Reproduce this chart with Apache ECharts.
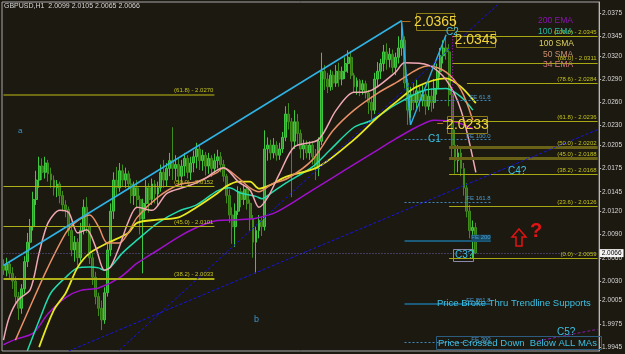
<!DOCTYPE html>
<html><head><meta charset="utf-8">
<script src="https://cdn.jsdelivr.net/npm/echarts@6/dist/echarts.min.js"></script>
<style>html,body{margin:0;padding:0;background:#1c1910;overflow:hidden}#c{width:625px;height:354px}</style>
</head><body><div id="c"></div>
<script>
// ---------- DATA ----------
const titleText = 'GBPUSD,H1  2.0099 2.0105 2.0065 2.0066';
const slotCount = 201; // hourly slots on the visible axis
const yTicks = [2.0375,2.0345,2.0320,2.0290,2.0260,2.0230,2.0205,2.0175,2.0145,2.0120,2.0090,2.0060,2.0030,2.0005,1.9975,1.9945];
// [open, close, low, high]
const ohlc = [
[2.0050,2.0044,2.0038,2.0058],[2.0044,2.0052,2.0036,2.0060],[2.0052,2.0040,2.0032,2.0056],[2.0040,2.0030,2.0020,2.0048],
[2.0030,2.0010,2.0002,2.0036],[2.0010,1.9995,1.9980,2.0016],[1.9995,2.0020,1.9988,2.0026],[2.0020,2.0055,2.0014,2.0062],
[2.0055,2.0080,2.0048,2.0092],[2.0080,2.0100,2.0070,2.0110],[2.0100,2.0135,2.0095,2.0145],[2.0135,2.0160,2.0128,2.0172],
[2.0160,2.0178,2.0150,2.0190],[2.0178,2.0170,2.0160,2.0188],[2.0170,2.0182,2.0162,2.0190],[2.0182,2.0168,2.0158,2.0186],
[2.0168,2.0160,2.0150,2.0176],[2.0160,2.0150,2.0140,2.0166],[2.0150,2.0155,2.0138,2.0160],[2.0155,2.0140,2.0130,2.0158],
[2.0140,2.0128,2.0120,2.0146],[2.0128,2.0122,2.0112,2.0134],[2.0122,2.0095,2.0088,2.0126],[2.0095,2.0070,2.0062,2.0100],
[2.0070,2.0080,2.0055,2.0088],[2.0080,2.0060,2.0050,2.0085],[2.0060,2.0095,2.0055,2.0105],[2.0095,2.0125,2.0090,2.0135],
[2.0125,2.0100,2.0092,2.0138],[2.0100,2.0060,2.0052,2.0104],[2.0060,2.0035,2.0025,2.0066],[2.0035,2.0010,2.0000,2.0042],
[2.0010,1.9995,1.9985,2.0015],[1.9995,1.9980,1.9967,2.0005],[1.9980,2.0015,1.9975,2.0022],[2.0015,2.0070,2.0010,2.0080],
[2.0070,2.0120,2.0062,2.0130],[2.0120,2.0160,2.0110,2.0170],[2.0160,2.0150,2.0140,2.0177],[2.0150,2.0172,2.0145,2.0182],
[2.0172,2.0160,2.0152,2.0180],[2.0160,2.0168,2.0150,2.0176],[2.0168,2.0155,2.0148,2.0172],[2.0155,2.0140,2.0130,2.0162],
[2.0140,2.0150,2.0128,2.0158],[2.0150,2.0135,2.0125,2.0160],[2.0135,2.0110,2.0090,2.0140],[2.0110,2.0130,2.0040,2.0136],
[2.0130,2.0150,2.0120,2.0160],[2.0150,2.0135,2.0118,2.0156],[2.0135,2.0155,2.0128,2.0162],[2.0155,2.0142,2.0130,2.0160],
[2.0142,2.0150,2.0128,2.0158],[2.0150,2.0170,2.0145,2.0180],[2.0170,2.0160,2.0150,2.0186],[2.0160,2.0175,2.0152,2.0182],
[2.0175,2.0185,2.0165,2.0195],[2.0185,2.0175,2.0160,2.0228],[2.0175,2.0180,2.0160,2.0192],[2.0180,2.0165,2.0155,2.0188],
[2.0165,2.0178,2.0152,2.0186],[2.0178,2.0188,2.0165,2.0195],[2.0188,2.0170,2.0162,2.0192],[2.0170,2.0182,2.0160,2.0190],
[2.0182,2.0190,2.0170,2.0198],[2.0190,2.0200,2.0175,2.0208],[2.0200,2.0185,2.0173,2.0206],[2.0185,2.0192,2.0172,2.0199],
[2.0192,2.0178,2.0166,2.0196],[2.0178,2.0188,2.0168,2.0195],[2.0188,2.0175,2.0164,2.0192],[2.0175,2.0185,2.0168,2.0194],
[2.0185,2.0190,2.0175,2.0199],[2.0190,2.0180,2.0170,2.0196],[2.0180,2.0165,2.0158,2.0186],[2.0165,2.0140,2.0130,2.0168],
[2.0140,2.0115,2.0105,2.0148],[2.0115,2.0100,2.0078,2.0125],[2.0100,2.0120,2.0074,2.0130],[2.0120,2.0145,2.0115,2.0152],
[2.0145,2.0135,2.0125,2.0150],[2.0135,2.0148,2.0128,2.0154],[2.0148,2.0130,2.0122,2.0152],[2.0130,2.0110,2.0095,2.0135],
[2.0110,2.0080,2.0060,2.0115],[2.0080,2.0095,2.0040,2.0100],[2.0095,2.0108,2.0085,2.0115],[2.0108,2.0100,2.0088,2.0112],
[2.0100,2.0200,2.0095,2.0224],[2.0200,2.0205,2.0185,2.0215],[2.0205,2.0195,2.0186,2.0212],[2.0195,2.0205,2.0188,2.0214],
[2.0205,2.0192,2.0185,2.0210],[2.0192,2.0200,2.0186,2.0208],[2.0200,2.0215,2.0195,2.0222],[2.0215,2.0245,2.0210,2.0255],
[2.0245,2.0235,2.0225,2.0259],[2.0235,2.0210,2.0138,2.0240],[2.0210,2.0235,2.0200,2.0250],[2.0235,2.0220,2.0205,2.0245],
[2.0220,2.0200,2.0188,2.0225],[2.0200,2.0205,2.0186,2.0212],[2.0205,2.0195,2.0188,2.0211],[2.0195,2.0205,2.0186,2.0210],
[2.0205,2.0190,2.0180,2.0210],[2.0190,2.0175,2.0160,2.0200],[2.0175,2.0210,2.0165,2.0215],[2.0210,2.0300,2.0205,2.0324],
[2.0300,2.0290,2.0276,2.0308],[2.0290,2.0280,2.0272,2.0298],[2.0280,2.0295,2.0275,2.0302],[2.0295,2.0285,2.0276,2.0300],
[2.0285,2.0300,2.0280,2.0308],[2.0300,2.0290,2.0280,2.0311],[2.0290,2.0300,2.0282,2.0306],[2.0300,2.0310,2.0290,2.0318],
[2.0310,2.0318,2.0298,2.0327],[2.0318,2.0295,2.0290,2.0326],[2.0295,2.0280,2.0272,2.0298],[2.0280,2.0288,2.0270,2.0292],
[2.0288,2.0276,2.0268,2.0290],[2.0276,2.0284,2.0270,2.0289],[2.0284,2.0272,2.0265,2.0288],[2.0272,2.0260,2.0245,2.0276],
[2.0260,2.0250,2.0237,2.0268],[2.0250,2.0290,2.0245,2.0298],[2.0290,2.0300,2.0280,2.0312],[2.0300,2.0310,2.0290,2.0316],
[2.0310,2.0325,2.0300,2.0334],[2.0325,2.0315,2.0302,2.0336],[2.0315,2.0322,2.0305,2.0330],[2.0322,2.0305,2.0298,2.0328],
[2.0305,2.0318,2.0295,2.0324],[2.0318,2.0330,2.0310,2.0345],[2.0330,2.0340,2.0320,2.0365],[2.0340,2.0285,2.0278,2.0345],
[2.0285,2.0250,2.0231,2.0290],[2.0250,2.0270,2.0240,2.0280],[2.0270,2.0260,2.0250,2.0285],[2.0260,2.0275,2.0252,2.0289],
[2.0275,2.0262,2.0248,2.0280],[2.0262,2.0270,2.0255,2.0282],[2.0270,2.0255,2.0244,2.0275],[2.0255,2.0268,2.0250,2.0285],
[2.0268,2.0260,2.0248,2.0278],[2.0260,2.0278,2.0252,2.0290],[2.0278,2.0300,2.0270,2.0310],[2.0300,2.0320,2.0292,2.0330],
[2.0320,2.0330,2.0310,2.0340],[2.0330,2.0325,2.0315,2.0345],[2.0325,2.0270,2.0255,2.0335],[2.0270,2.0205,2.0190,2.0280],
[2.0205,2.0185,2.0168,2.0225],[2.0185,2.0195,2.0170,2.0205],[2.0195,2.0175,2.0165,2.0200],[2.0175,2.0150,2.0140,2.0182],
[2.0150,2.0120,2.0112,2.0156],[2.0120,2.0095,2.0085,2.0128],[2.0095,2.0099,2.0059,2.0108],[2.0099,2.0066,2.0065,2.0105]
];
// moving averages [bar index, price]
const ema200 = [[0,1.9948],[4,1.9955],[10,1.9963],[15,1.9988],[21,2.0009],[26,2.0018],[32,2.0021],[39,2.0034],[45,2.0053],[52,2.0070],[59,2.0087],[65,2.0099],[72,2.0108],[79,2.0109],[85,2.0111],[92,2.0119],[104,2.0147],[115,2.0173],[126,2.0199],[132,2.0213],[139,2.0228],[145,2.0237],[152,2.0235],[158,2.0226]];
const ema100 = [[8,1.9940],[13,1.9989],[16,2.0015],[21,2.0035],[25,2.0047],[29,2.0048],[32,2.0047],[34,2.0044],[36,2.0048],[40,2.0066],[45,2.0083],[52,2.0105],[59,2.0120],[65,2.0128],[72,2.0146],[76,2.0150],[80,2.0143],[85,2.0139],[87,2.0136],[90,2.0143],[95,2.0156],[104,2.0177],[110,2.0199],[118,2.0228],[124,2.0237],[132,2.0257],[142,2.0276],[149,2.0278],[154,2.0267],[158,2.0250]];
const sma100 = [[12,1.9945],[17,1.9993],[21,2.0015],[25,2.0048],[29,2.0066],[35,2.0079],[42,2.0092],[45,2.0105],[52,2.0109],[59,2.0112],[65,2.0125],[72,2.0143],[75,2.0152],[79,2.0158],[83,2.0158],[86,2.0149],[90,2.0154],[95,2.0164],[106,2.0177],[118,2.0212],[126,2.0241],[132,2.0260],[139,2.0280],[149,2.0291],[154,2.0280],[159,2.0259]];
const sma50 = [[4,1.9954],[10,2.0006],[15,2.0048],[21,2.0092],[24,2.0105],[29,2.0115],[32,2.0100],[35,2.0079],[39,2.0079],[42,2.0092],[45,2.0112],[52,2.0138],[59,2.0154],[65,2.0158],[72,2.0170],[74,2.0176],[79,2.0163],[83,2.0150],[86,2.0145],[90,2.0154],[96,2.0163],[104,2.0186],[111,2.0224],[118,2.0250],[126,2.0272],[132,2.0285],[143,2.0307],[149,2.0299],[154,2.0276],[158,2.0237]];
const ema34 = [[0,1.9954],[2,1.9984],[5,2.0006],[9,2.0019],[12,2.0066],[15,2.0105],[19,2.0121],[22,2.0118],[25,2.0092],[28,2.0096],[31,2.0074],[34,2.0044],[36,2.0048],[39,2.0074],[42,2.0106],[45,2.0125],[50,2.0121],[55,2.0143],[61,2.0151],[67,2.0160],[74,2.0176],[79,2.0158],[83,2.0147],[86,2.0125],[89,2.0138],[93,2.0169],[98,2.0203],[106,2.0212],[112,2.0250],[118,2.0273],[121,2.0273],[125,2.0278],[132,2.0299],[135,2.0311],[143,2.0308],[149,2.0289],[154,2.0250],[159,2.0170]];
const maNames = ['200 EMA','100 EMA','100 SMA','50 SMA','34 EMA'];
// Fibonacci retracements
const fibRLevels = ['100.0','88.0','78.6','61.8','50.0','45.0','38.2','23.6','0.0'];
const fibRPrices = [2.0345,2.0311,2.0284,2.0236,2.0202,2.0188,2.0168,2.0126,2.0059];
const fibLLevels = ['61.8','50.0','45.0','38.2'];
const fibLPrices = [2.0270,2.0152,2.0101,2.0033];
// Fibonacci expansion
const feLevels = ['61.8','100.0','161.8','200','261.8','300'];
const fePrices = [2.0263,2.0213,2.0132,2.0082,2.0001,1.9951];
// trendlines [bar index, price]
const tlCyan = [[0,2.0050],[134,2.0365]];
const zigzag = [[134,2.0365],[137,2.0231],[149,2.0347]];
const tlBlueSteep = [[39,1.9941],[167,2.0388]];
const tlBlueLow = [[22,1.9940],[200,2.0225]];
const tlPurple = [[180,1.9953],[200,1.9968]];
const peakHigh = 2.0365, peak2 = 2.0345, c1Price = 2.0233;
const bidPrice = 2.0066;

// ---------- CHART ----------
const cats = Array.from({length: slotCount}, (_, i) => String(i));
const ff = '"Liberation Sans", Arial, sans-serif';
function seg(a, b, lineStyle, label) {
  return [{coord: a, lineStyle: lineStyle, label: label || {show: false}}, {coord: b}];
}
const fibRStart = [151,151,156,148,150,150,150,150,150];
const fibRDark = {'50.0': true, '45.0': true};
const ml = [];
fibRLevels.forEach((lv, k) => {
  const dark = fibRDark[lv];
  ml.push(seg([fibRStart[k], fibRPrices[k]], [200, fibRPrices[k]],
    {color: dark ? '#6a6216' : '#a8a812', width: dark ? 3 : 1, type: 'solid'},
    {show: true, position: 'insideEndTop', distance: 1, formatter: '(' + lv + ') - ' + fibRPrices[k].toFixed(4), color: '#c4c41c', fontSize: 6, fontFamily: ff}));
});
fibLLevels.forEach((lv, k) => {
  ml.push(seg([0, fibLPrices[k]], [71, fibLPrices[k]],
    {color: k === 0 ? '#6e6a12' : '#b0b018', width: k === 0 ? 2 : (k === 3 ? 2 : 1), type: 'solid'},
    {show: true, position: 'insideEndTop', distance: 1, formatter: '(' + lv + ') - ' + fibLPrices[k].toFixed(4), color: '#c4c41c', fontSize: 6, fontFamily: ff}));
});
feLevels.forEach((lv, k) => {
  const solid = (lv === '200' || lv === '261.8');
  ml.push(seg([135, fePrices[k]], [164, fePrices[k]],
    {color: solid ? '#1c5a7a' : '#3a8cc0', width: solid ? 2 : 1, type: solid ? 'solid' : [2, 2]},
    {show: true, position: 'insideEndTop', distance: 0, formatter: 'FE ' + lv, color: '#4a9ad0', fontSize: 6, fontFamily: ff,
     backgroundColor: lv === '200' ? '#154a62' : 'transparent'}));
});
ml.push(seg(tlCyan[0], tlCyan[1], {color: '#2fb2e4', width: 1.6, type: 'solid'}));
ml.push(seg(zigzag[0], zigzag[1], {color: '#2fb2e4', width: 1.4, type: 'solid'}));
ml.push(seg(zigzag[1], zigzag[2], {color: '#2fb2e4', width: 1.4, type: 'solid'}));
ml.push(seg(tlBlueSteep[0], tlBlueSteep[1], {color: '#1414e6', width: 1, type: [3, 2]}));
ml.push(seg(tlBlueLow[0], tlBlueLow[1], {color: '#1414e6', width: 1, type: [3, 2]}));
ml.push(seg(tlPurple[0], tlPurple[1], {color: '#8a18b0', width: 1, type: [3, 2]}));
ml.push(seg([134, peakHigh], [137, peakHigh], {color: '#b07020', width: 1, type: 'solid'}));
ml.push(seg([146, c1Price], [148, c1Price], {color: '#b07020', width: 1, type: 'solid'}));
ml.push(seg([151, peak2], [151, c1Price], {color: '#b010c0', width: 1, type: [1, 2]}));
ml.push([{coord: [0, bidPrice], lineStyle: {color: '#6a62a8', width: 1, type: [1, 2]},
  label: {show: true, position: 'end', distance: 2, formatter: bidPrice.toFixed(4), color: '#000', backgroundColor: '#f4f4f4', fontSize: 6.5, fontFamily: ff, padding: [1, 2, 0, 2]}},
  {coord: [200, bidPrice]}]);

function maSeries(name, data, color, width) {
  return {name, type: 'line', data, smooth: 0.3, showSymbol: false, symbol: 'none', connectNulls: true,
    lineStyle: {color, width}, z: 4, silent: true};
}
const legendCols = ['#8c14b4', '#22b8a2', '#dcd060', '#cc9070', '#d07c80'];
const legendPos = [[538, 16], [538, 27], [539, 39], [543, 50], [543, 60]];

const graphic = [
  {type: 'text', x: 4, y: 3, style: {text: titleText, fill: '#d6d6d6', font: '7px ' + ff}, z: 100},
  {type: 'rect', shape: {x: 416.5, y: 13.5, width: 38, height: 17}, style: {fill: 'transparent', stroke: '#8c7c18', lineWidth: 1}, z: 100},
  {type: 'text', x: 435.5, y: 22, style: {text: peakHigh.toFixed(4), fill: '#f2d43a', font: '14px "Liberation Sans Narrow", ' + ff, align: 'center', verticalAlign: 'middle'}, z: 100},
  {type: 'rect', shape: {x: 456.5, y: 31.5, width: 39, height: 16}, style: {fill: 'transparent', stroke: '#8c7c18', lineWidth: 1}, z: 100},
  {type: 'text', x: 476, y: 40, style: {text: peak2.toFixed(4), fill: '#f2d43a', font: '14px "Liberation Sans Narrow", ' + ff, align: 'center', verticalAlign: 'middle'}, z: 100},
  {type: 'rect', shape: {x: 447.5, y: 116.5, width: 40, height: 17}, style: {fill: 'transparent', stroke: '#8c7c18', lineWidth: 1}, z: 100},
  {type: 'text', x: 467.5, y: 125.5, style: {text: c1Price.toFixed(4), fill: '#f2d43a', font: '14px "Liberation Sans Narrow", ' + ff, align: 'center', verticalAlign: 'middle'}, z: 100},
  {type: 'text', x: 446, y: 27, style: {text: 'C2', fill: '#3cc0e4', font: '10px ' + ff}, z: 100},
  {type: 'text', x: 428, y: 134, style: {text: 'C1', fill: '#3cc0e4', font: '10px ' + ff}, z: 100},
  {type: 'text', x: 508, y: 166, style: {text: 'C4?', fill: '#3cc0e4', font: '10px ' + ff}, z: 100},
  {type: 'rect', shape: {x: 453.5, y: 249.5, width: 20, height: 12}, style: {fill: 'transparent', stroke: '#8a8aa8', lineWidth: 1}, z: 100},
  {type: 'text', x: 455, y: 250, style: {text: 'C3?', fill: '#3cc0e4', font: '10px ' + ff}, z: 100},
  {type: 'text', x: 557, y: 327, style: {text: 'C5?', fill: '#3cc0e4', font: '10px ' + ff}, z: 100},
  {type: 'text', x: 18, y: 127, style: {text: 'a', fill: '#3a94cc', font: '8px ' + ff}, z: 100},
  {type: 'text', x: 254, y: 315, style: {text: 'b', fill: '#3a94cc', font: '9px ' + ff}, z: 100},
  {type: 'text', x: 437, y: 303, style: {text: 'Price Broke Thru Trendline Supports', fill: '#3cc0e4', font: '9.5px ' + ff, verticalAlign: 'middle'}, z: 100},
  {type: 'rect', shape: {x: 436.5, y: 336.5, width: 165, height: 13}, style: {fill: 'transparent', stroke: '#2c5c80', lineWidth: 1}, z: 100},
  {type: 'text', x: 438, y: 343.5, style: {text: 'Price Crossed Down  Below ALL MAs', fill: '#3cc0e4', font: '9.5px ' + ff, verticalAlign: 'middle'}, z: 100},
  {type: 'polygon', shape: {points: [[519, 229], [526, 237], [522, 237], [522, 246], [516, 246], [516, 237], [512, 237]]}, style: {fill: 'transparent', stroke: '#e01414', lineWidth: 1.5}, z: 100},
  {type: 'text', x: 530, y: 221, style: {text: '?', fill: '#e01414', font: 'bold 20px ' + ff}, z: 100}
];
maNames.forEach((n, k) => graphic.push({type: 'text', x: legendPos[k][0], y: legendPos[k][1], style: {text: n, fill: legendCols[k], font: '8.5px ' + ff}, z: 100}));

const chart = echarts.init(document.getElementById('c'), null, {renderer: 'canvas'});
chart.setOption({
  animation: false,
  backgroundColor: '#1c1910',
  grid: {left: 2, right: 21, top: 2, bottom: 3, show: true, borderColor: '#a8a8a8', borderWidth: 1, containLabel: false},
  xAxis: {type: 'category', data: cats, boundaryGap: true, axisLine: {show: false}, axisTick: {show: false}, axisLabel: {show: false}, splitLine: {show: false}},
  yAxis: {type: 'value', position: 'right', min: 1.9940, max: 2.03892,
    splitLine: {show: false},
    axisLine: {show: true, lineStyle: {color: '#b8b8b8'}},
    axisTick: {show: true, customValues: yTicks, length: 2, lineStyle: {color: '#b8b8b8'}},
    axisLabel: {customValues: yTicks, formatter: v => v.toFixed(4), color: '#d8d8d8', fontSize: 6.5, fontFamily: ff, margin: 3}},
  graphic: graphic,
  series: [
    {type: 'line', data: [], z: 1, silent: true,
      markLine: {silent: true, symbol: ['none', 'none'], animation: false, data: ml}},
    {type: 'candlestick', data: ohlc, barWidth: 2.4, z: 3, silent: true,
      itemStyle: {color: '#2e9a2e', color0: '#356e16', borderColor: '#3fc83f', borderColor0: '#3f8c1c', borderWidth: 1}},
    maSeries(maNames[0], ema200, '#a010cc', 1.5),
    maSeries(maNames[1], ema100, '#22dcae', 1.5),
    maSeries(maNames[2], sma100, '#e8e820', 1.8),
    maSeries(maNames[3], sma50, '#e89068', 1.5),
    maSeries(maNames[4], ema34, '#f0a8b4', 1.5)
  ]
});
</script></body></html>
